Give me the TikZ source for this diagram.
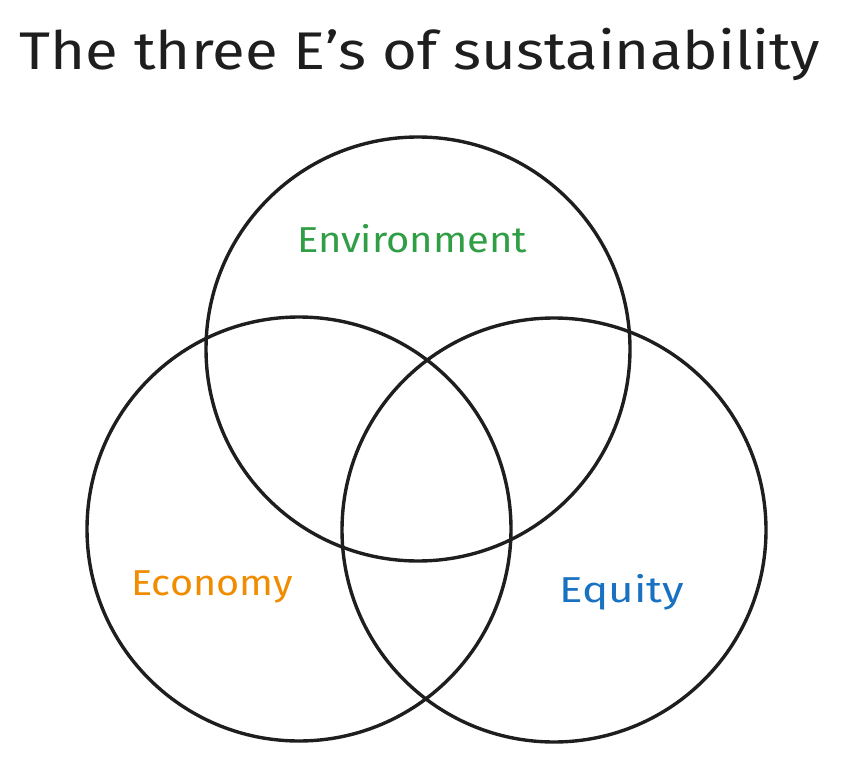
\documentclass[tikz,border=0pt]{standalone}
\usepackage{graphicx}
\usepackage{fontspec}
\setmainfont{Fira Sans}
\definecolor{ink}{HTML}{1E1E1E}
\definecolor{envgreen}{HTML}{2F9E44}
\definecolor{ecoorange}{HTML}{F08C00}
\definecolor{equblue}{HTML}{1971C2}
\tikzset{
  ring/.style={circle, draw=ink, line width=3.4pt, minimum size=424pt, inner sep=0pt},
  lbl/.style={font=\fontsize{36}{40}\selectfont, inner sep=0pt, anchor=base},
  ttl/.style={font=\fontsize{53}{58}\selectfont, text=ink, inner sep=0pt, anchor=base}
}
\begin{document}
\begin{tikzpicture}[x=1pt,y=-1pt]
\useasboundingbox (0,0) rectangle (843,759);
\node[ttl] (title) at (420,70) {\scalebox{1.13}[1]{The three E's of sustainability}};
\node[ring] (env) at (418,349) {};
\node[ring] (eco) at (299,529) {};
\node[ring] (equ) at (554,530) {};
\node[lbl, text=envgreen] (envl) at (412,253) {\scalebox{1.11}[1]{Environment}};
\node[lbl, text=ecoorange] (ecol) at (212,595) {\scalebox{1.1}[1]{Economy}};
\node[lbl, text=equblue] (equl) at (622,602) {\scalebox{1.22}[1]{Equity}};
\end{tikzpicture}
\end{document}
